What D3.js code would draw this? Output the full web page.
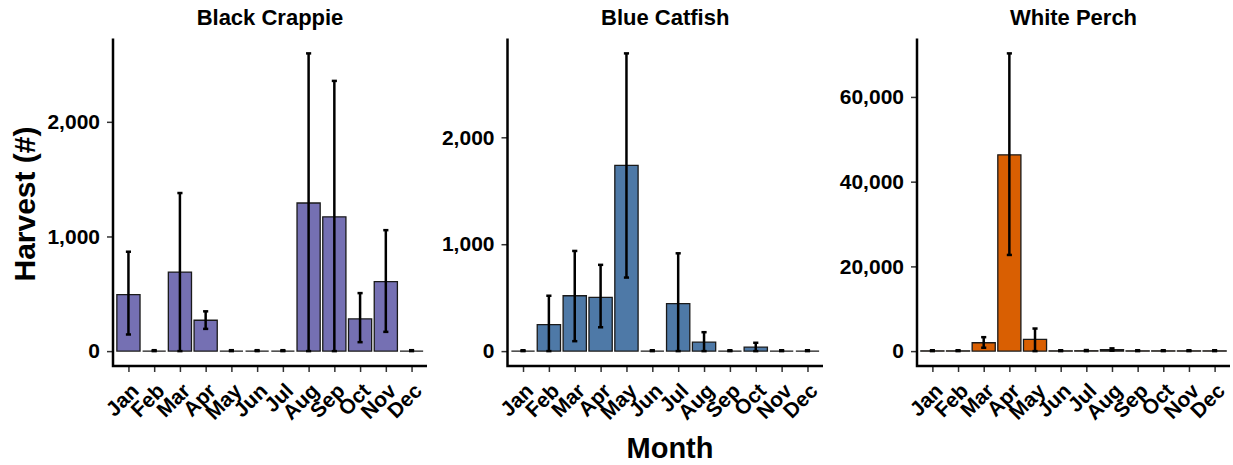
<!DOCTYPE html>
<html>
<head>
<meta charset="utf-8">
<script src="https://cdn.jsdelivr.net/npm/d3@7"></script>
<style>
  body { margin: 0; background: #fff; }
  svg { display: block; font-family: 'Liberation Sans', Arial, sans-serif; font-weight: bold; }
</style>
</head>
<body>
<div id="chart"></div>
<script>
// Month categories shared by every panel
const months = ['Jan', 'Feb', 'Mar', 'Apr', 'May', 'Jun', 'Jul', 'Aug', 'Sep', 'Oct', 'Nov', 'Dec'];

// Black Crappie harvest: mean and error bar bounds
const crappieMean = [492, 0, 689, 269, 0, 0, 0, 1292, 1171, 281, 607, 0];
const crappieLow = [145, 0, 0, 194, 0, 0, 0, 0, 0, 78, 168, 0];
const crappieHigh = [867, 8, 1379, 347, 8, 8, 8, 2597, 2357, 506, 1055, 8];

// Blue Catfish harvest
const catfishMean = [0, 248, 518, 502, 1737, 0, 444, 84, 0, 37, 0, 0];
const catfishLow = [0, 0, 93, 223, 688, 0, 0, 0, 0, 0, 0, 0];
const catfishHigh = [8, 518, 937, 807, 2785, 8, 915, 177, 8, 78, 8, 8];

// White Perch harvest
const perchMean = [60, 60, 1970, 46340, 2750, 60, 80, 320, 60, 60, 60, 60];
const perchLow = [0, 0, 800, 22700, 0, 0, 0, 100, 0, 0, 0, 0];
const perchHigh = [200, 200, 3290, 70280, 5330, 200, 250, 650, 200, 200, 200, 200];

// y tick values for each panel
const crappieTicks = [0, 1000, 2000];
const catfishTicks = [0, 1000, 2000];
const perchTicks = [0, 20000, 40000, 60000];

const panels = [
  { title: 'Black Crappie', mean: crappieMean, low: crappieLow, high: crappieHigh, ticks: crappieTicks, color: '#7570b3', x0: 113, x1: 427 },
  { title: 'Blue Catfish', mean: catfishMean, low: catfishLow, high: catfishHigh, ticks: catfishTicks, color: '#4e79a7', x0: 507.5, x1: 823 },
  { title: 'White Perch', mean: perchMean, low: perchLow, high: perchHigh, ticks: perchTicks, color: '#d95f02', x0: 917, x1: 1230 }
];

const width = 1233;
const height = 465;
const plotTop = 38.5;
const plotBottom = 366;
const fontStack = "'Liberation Sans', Arial, sans-serif";
const fmt = d3.format(',');

const svg = d3.select('#chart').append('svg')
  .attr('width', width)
  .attr('height', height);

panels.forEach(p => {
  // ggplot style discrete scale: 0.6 units of padding on each side
  const step = (p.x1 - p.x0) / (months.length + 0.2);
  const xScale = d3.scalePoint()
    .domain(months)
    .range([p.x0 + 0.6 * step, p.x1 - 0.6 * step]);
  const barW = 0.9 * step;

  const maxY = d3.max(p.high);
  const yScale = d3.scaleLinear()
    .domain([-0.05 * maxY, 1.05 * maxY])
    .range([plotBottom, plotTop]);

  const g = svg.append('g');

  // bars (paths so zero-height months still show their outline)
  g.selectAll('path.bar')
    .data(months)
    .enter().append('path')
    .attr('class', 'bar')
    .attr('d', (d, i) => {
      const x = xScale(d) - barW / 2;
      return 'M' + x + ',' + yScale(0) + 'H' + (x + barW) + 'V' + yScale(p.mean[i]) + 'H' + x + 'Z';
    })
    .attr('fill', p.color)
    .attr('stroke', '#1a1a1a')
    .attr('stroke-width', 1.3);

  // error bars
  const capW = 0.1 * step;
  const eb = g.selectAll('g.err')
    .data(months)
    .enter().append('g')
    .attr('class', 'err')
    .attr('stroke', '#000')
    .attr('stroke-width', 2.5);
  eb.append('line')
    .attr('x1', d => xScale(d)).attr('x2', d => xScale(d))
    .attr('y1', (d, i) => yScale(p.low[i]))
    .attr('y2', (d, i) => yScale(p.high[i]));
  eb.append('line')
    .attr('x1', d => xScale(d) - capW).attr('x2', d => xScale(d) + capW)
    .attr('y1', (d, i) => yScale(p.high[i]))
    .attr('y2', (d, i) => yScale(p.high[i]));
  eb.append('line')
    .attr('x1', d => xScale(d) - capW).attr('x2', d => xScale(d) + capW)
    .attr('y1', (d, i) => yScale(p.low[i]))
    .attr('y2', (d, i) => yScale(p.low[i]));

  // y axis
  const yAxis = g.append('g')
    .attr('transform', 'translate(' + p.x0 + ',0)')
    .call(d3.axisLeft(yScale).tickValues(p.ticks).tickFormat(fmt).tickSize(6).tickPadding(7));
  yAxis.select('path.domain').remove();
  yAxis.selectAll('.tick line').attr('stroke', '#333').attr('stroke-width', 1.5);
  yAxis.selectAll('.tick text')
    .attr('fill', '#000')
    .attr('font-size', 21)
    .attr('font-family', fontStack)
    .attr('font-weight', 'bold');

  // x axis, labels turned 45 degrees
  const xAxis = g.append('g')
    .attr('transform', 'translate(0,' + plotBottom + ')')
    .call(d3.axisBottom(xScale).tickSize(6));
  xAxis.select('path.domain').remove();
  xAxis.selectAll('.tick line').attr('stroke', '#333').attr('stroke-width', 1.5);
  xAxis.selectAll('.tick text')
    .attr('fill', '#000')
    .attr('font-size', 21)
    .attr('font-family', fontStack)
    .attr('font-weight', 'bold')
    .attr('text-anchor', 'end')
    .attr('x', 0)
    .attr('y', 0)
    .attr('dy', '0.75em')
    .attr('transform', 'translate(0,15) rotate(-45)');

  // axis lines
  g.append('path')
    .attr('d', 'M' + p.x0 + ',' + plotTop + 'V' + plotBottom + 'H' + p.x1)
    .attr('fill', 'none')
    .attr('stroke', '#000')
    .attr('stroke-width', 2.5);

  // panel title
  g.append('text')
    .attr('x', (p.x0 + p.x1) / 2)
    .attr('y', 25)
    .attr('text-anchor', 'middle')
    .attr('font-size', 22)
    .text(p.title);
});

// axis titles
svg.append('text')
  .attr('transform', 'translate(24,204) rotate(-90)')
  .attr('text-anchor', 'middle')
  .attr('dominant-baseline', 'central')
  .attr('font-size', 30)
  .text('Harvest (#)');

svg.append('text')
  .attr('x', 670)
  .attr('y', 458)
  .attr('text-anchor', 'middle')
  .attr('font-size', 29)
  .text('Month');
</script>
</body>
</html>
